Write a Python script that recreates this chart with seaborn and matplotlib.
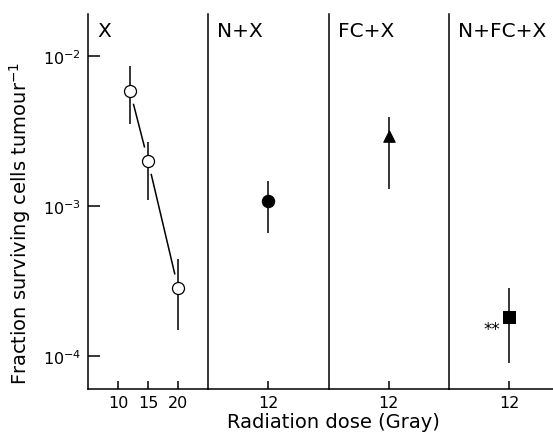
import matplotlib
matplotlib.use("Agg")
import matplotlib.pyplot as plt
import matplotlib.ticker as mticker
import numpy as np
import pandas as pd
import seaborn as sns

# ---------------- data ----------------
panel_titles = ["X", "N+X", "FC+X", "N+FC+X"]

x_dose = [12, 15, 20]
x_frac = [5.9e-3, 2.01e-3, 2.85e-4]
x_lo = [3.53e-3, 1.10e-3, 1.49e-4]
x_hi = [8.65e-3, 2.69e-3, 4.42e-4]

nx_dose = [12]
nx_frac = [1.08e-3]
nx_lo = [6.6e-4]
nx_hi = [1.47e-3]

fcx_dose = [12]
fcx_frac = [2.95e-3]
fcx_lo = [1.30e-3]
fcx_hi = [3.94e-3]

nfcx_dose = [12]
nfcx_frac = [1.81e-4]
nfcx_lo = [9.0e-5]
nfcx_hi = [2.83e-4]

x_ticks_panel1 = [10, 15, 20]
x_ticks_other = [12]
y_ticks = [1e-4, 1e-3, 1e-2]

# ---------------- style ----------------
sns.set_theme(style="ticks")
plt.rcParams["font.family"] = ["DejaVu Sans"]
plt.rcParams["mathtext.default"] = "regular"
plt.rcParams["axes.linewidth"] = 1.1

W, H = 553, 439
fig = plt.figure(figsize=(W / 100, H / 100), dpi=100)

bottom_px, top_px = 389.5, 15
panel_left_px = [88, 208, 328.5, 449]
panel_w_px = 120

axes = []
for lp in panel_left_px:
    ax = fig.add_axes([lp / W, (H - bottom_px) / H, panel_w_px / W, (bottom_px - top_px) / H])
    axes.append(ax)

# Panel 1: X alone
df_x = pd.DataFrame({"dose": x_dose, "frac": x_frac, "lo": x_lo, "hi": x_hi})
ax = axes[0]
sns.lineplot(data=df_x, x="dose", y="frac", color="black", linewidth=1.1, ax=ax,
             zorder=1, legend=False)
sns.scatterplot(data=df_x, x="dose", y="frac", s=380, color="white",
                edgecolor="none", ax=ax, zorder=2, legend=False)
ax.vlines(df_x["dose"], df_x["lo"], df_x["hi"], color="black", linewidth=1.1, zorder=3)
sns.scatterplot(data=df_x, x="dose", y="frac", s=75, marker="o", facecolor="white",
                edgecolor="black", linewidth=0.9, ax=ax, zorder=4, legend=False)

# Panel 2: N+X
df_nx = pd.DataFrame({"dose": nx_dose, "frac": nx_frac, "lo": nx_lo, "hi": nx_hi})
ax = axes[1]
ax.vlines(df_nx["dose"], df_nx["lo"], df_nx["hi"], color="black", linewidth=1.1, zorder=3)
sns.scatterplot(data=df_nx, x="dose", y="frac", s=80, marker="o", color="black",
                edgecolor="black", ax=ax, zorder=4, legend=False)

# Panel 3: FC+X
df_fcx = pd.DataFrame({"dose": fcx_dose, "frac": fcx_frac, "lo": fcx_lo, "hi": fcx_hi})
ax = axes[2]
ax.vlines(df_fcx["dose"], df_fcx["lo"], df_fcx["hi"], color="black", linewidth=1.1, zorder=3)
sns.scatterplot(data=df_fcx, x="dose", y="frac", s=70, marker="^", color="black",
                edgecolor="black", ax=ax, zorder=4, legend=False)

# Panel 4: N+FC+X
df_nfcx = pd.DataFrame({"dose": nfcx_dose, "frac": nfcx_frac, "lo": nfcx_lo, "hi": nfcx_hi})
ax = axes[3]
ax.vlines(df_nfcx["dose"], df_nfcx["lo"], df_nfcx["hi"], color="black", linewidth=1.1, zorder=3)
sns.scatterplot(data=df_nfcx, x="dose", y="frac", s=85, marker="s", color="black",
                edgecolor="black", ax=ax, zorder=4, legend=False)
ax.text(10.6, 1.51e-4, "**", ha="right", va="center", fontsize=12, color="black")

# axes formatting (after seaborn, which sets its own labels)
ylim = (10 ** -4.219, 10 ** -1.717)
for i, ax in enumerate(axes):
    ax.set_yscale("log")
    ax.set_ylim(*ylim)
    ax.spines["top"].set_visible(False)
    ax.spines["right"].set_visible(False)
    ax.spines["left"].set_color("black")
    ax.spines["bottom"].set_color("black")
    ax.set_facecolor("white")
    if i == 0:
        ax.set_xlim(5, 25)
        ax.set_xticks(x_ticks_panel1)
        ax.set_yticks(y_ticks)
        ax.yaxis.set_minor_locator(mticker.NullLocator())
        ax.tick_params(axis="y", direction="in", length=8.4, width=1.1, pad=5,
                       labelsize=11.5, colors="black")
    else:
        ax.set_xlim(2, 22)
        ax.set_xticks(x_ticks_other)
        ax.set_yticks([])
        ax.yaxis.set_minor_locator(mticker.NullLocator())
        ax.tick_params(axis="y", left=False, labelleft=False)
    ax.set_xticklabels([str(t) for t in ax.get_xticks()])
    ax.tick_params(axis="x", direction="in", length=5.8, width=1.1, pad=5,
                   labelsize=11.5, colors="black")
    ax.set_xlabel("")
    ax.set_ylabel("")
    ax.annotate(panel_titles[i], xy=(0, 1), xycoords="axes fraction",
                xytext=(6.5, -5), textcoords="offset points",
                ha="left", va="top", fontsize=14.5, color="black")

# axis titles
fig.text(333 / W, 1 - 428 / H, "Radiation dose (Gray)", ha="center", va="baseline",
         fontsize=14, color="black")
fig.text(20 / W, 1 - 223 / H, "Fraction surviving cells tumour$^{-1}$", rotation=90,
         ha="center", va="center", fontsize=14, color="black")

fig.savefig("out.png", dpi=100, facecolor="white")
